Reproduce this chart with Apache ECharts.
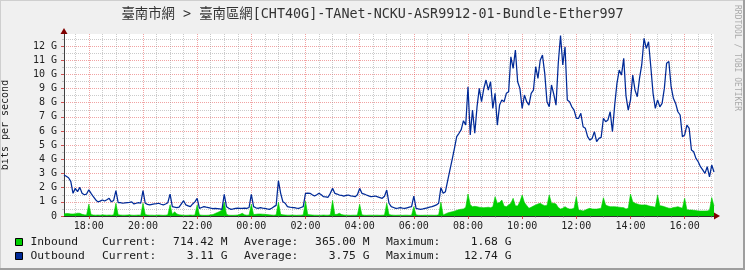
<!DOCTYPE html>
<html><head><meta charset="utf-8">
<script src="https://cdn.jsdelivr.net/npm/echarts@6/dist/echarts.min.js"></script>
<style>html,body{margin:0;padding:0;background:#F0F0F0;overflow:hidden}#c{width:745px;height:270px}</style>
</head><body><div id="c"></div>
<script>
const chartTitle = '臺南市網 > 臺南區網[CHT40G]-TANet-NCKU-ASR9912-01-Bundle-Ether997';
const yAxisTitle = 'bits per second';
const watermark = 'RRDTOOL / TOBI OETIKER';
const sampleStart = '17:05';
const sampleStepMin = 5;
const windowMin = 1440;
const xTickLabels = ['18:00','20:00','22:00','00:00','02:00','04:00','06:00','08:00','10:00','12:00','14:00','16:00'];
const xMinorStepMin = 30;
const yTickValues = [0,1,2,3,4,5,6,7,8,9,10,11,12];
const yTickLabels = ['0','1 G','2 G','3 G','4 G','5 G','6 G','7 G','8 G','9 G','10 G','11 G','12 G'];
const yMinorValues = [0.5,1.5,2.5,3.5,4.5,5.5,6.5,7.5,8.5,9.5,10.5,11.5,12.5];
const yMax = 12.85;

// Gbit/s, 5-minute samples from 17:05
const inbound = [
0.15,0.18,0.17,0.15,0.14,0.16,0.2,0.19,0.12,0.08,0.07,0.83,
0.1,0.07,0.06,0.07,0.06,0.08,0.07,0.06,0.07,0.06,0.08,0.9,
0.08,0.07,0.06,0.06,0.07,0.08,0.06,0.05,0.06,0.07,0.06,0.9,
0.1,0.07,0.06,0.06,0.05,0.06,0.07,0.06,0.05,0.06,0.08,0.78,
0.12,0.3,0.15,0.08,0.07,0.06,0.05,0.06,0.07,0.06,0.07,0.78,
0.08,0.06,0.05,0.05,0.06,0.08,0.1,0.18,0.25,0.32,0.42,0.97,
0.12,0.06,0.05,0.05,0.06,0.07,0.12,0.19,0.08,0.06,0.07,0.83,
0.1,0.12,0.14,0.14,0.13,0.12,0.1,0.08,0.07,0.06,0.08,0.97,
0.12,0.08,0.07,0.06,0.06,0.07,0.06,0.05,0.06,0.06,0.08,1.05,
0.1,0.08,0.07,0.06,0.06,0.05,0.06,0.07,0.06,0.06,0.08,1.1,
0.1,0.12,0.19,0.1,0.07,0.06,0.06,0.05,0.06,0.06,0.07,0.83,
0.08,0.06,0.05,0.06,0.06,0.05,0.06,0.06,0.05,0.06,0.07,0.9,
0.1,0.07,0.06,0.05,0.06,0.06,0.05,0.06,0.06,0.05,0.06,0.66,
0.08,0.06,0.05,0.05,0.06,0.05,0.06,0.06,0.05,0.06,0.08,0.97,
0.07,0.15,0.22,0.26,0.3,0.33,0.4,0.45,0.48,0.5,0.62,1.55,
0.8,0.66,0.68,0.66,0.62,0.6,0.59,0.6,0.62,0.59,0.65,1.36,
0.9,0.95,1.13,0.7,0.66,0.78,0.9,1.25,0.73,0.7,1.0,1.48,
0.95,0.75,0.54,0.62,0.7,0.78,0.85,0.9,0.8,0.73,0.75,1.48,
0.9,0.9,0.85,0.6,0.49,0.55,0.66,0.55,0.49,0.5,0.55,1.36,
0.42,0.4,0.35,0.42,0.5,0.54,0.5,0.49,0.49,0.52,0.55,1.29,
0.78,0.7,0.66,0.66,0.66,0.64,0.62,0.6,0.59,0.49,0.55,1.55,
1.0,0.9,0.85,0.8,0.78,0.78,0.78,0.72,0.68,0.66,0.62,1.48,
0.73,0.7,0.66,0.6,0.55,0.54,0.6,0.62,0.66,0.6,0.55,1.25,
0.45,0.42,0.42,0.4,0.38,0.36,0.35,0.35,0.35,0.36,0.4,1.3,
0.71];
const outbound = [
2.9,2.8,2.7,2.45,1.6,1.95,1.72,2.02,1.6,1.5,1.55,1.85,
1.6,1.36,1.15,1.0,1.05,1.13,1.06,1.15,1.25,1.0,1.1,1.79,
0.94,0.95,0.9,0.92,0.94,0.96,1.0,0.85,0.9,0.94,0.9,1.79,
0.9,0.82,0.78,0.82,0.85,0.87,0.9,0.83,0.78,0.85,0.94,1.55,
0.66,0.62,0.59,0.62,0.85,1.08,0.78,0.72,0.66,0.85,1.0,1.25,
0.54,0.6,0.66,0.62,0.59,0.55,0.52,0.53,0.52,0.5,0.47,1.53,
0.66,0.55,0.47,0.5,0.54,0.55,0.54,0.53,0.55,0.54,0.6,1.53,
0.66,0.58,0.54,0.59,0.56,0.54,0.5,0.47,0.55,0.66,0.75,2.49,
1.6,1.0,0.9,0.66,0.62,0.6,0.59,0.55,0.54,0.6,0.66,1.6,
1.62,1.6,1.5,1.41,1.5,1.6,1.5,1.36,1.35,1.32,1.6,1.95,
1.6,1.55,1.48,1.45,1.41,1.45,1.48,1.42,1.4,1.36,1.5,1.95,
1.6,1.55,1.48,1.42,1.36,1.38,1.41,1.35,1.3,1.25,1.4,1.83,
0.9,0.66,0.6,0.54,0.56,0.59,0.56,0.54,0.58,0.62,0.66,1.41,
0.54,0.5,0.47,0.5,0.54,0.58,0.62,0.66,0.72,0.78,0.9,2.0,
1.6,1.72,2.5,3.25,4.0,4.78,5.6,5.84,6.1,6.73,6.42,9.13,
5.72,7.48,5.84,7.7,9.01,8.07,9.0,9.6,8.89,9.48,7.6,8.66,
6.42,7.83,8.19,8.07,8.66,8.77,11.24,10.42,11.72,9.48,9.01,7.6,
8.54,8.07,7.83,8.66,8.89,10.54,9.72,11.0,11.36,10.07,8.07,7.71,
9.25,8.6,7.83,10.78,12.74,10.66,11.95,8.19,8.07,7.71,7.48,6.9,
6.9,7.25,6.3,6.19,5.6,5.36,5.48,5.95,5.25,5.48,5.55,6.9,
6.66,6.78,7.36,5.95,7.83,9.36,10.3,9.95,11.13,8.5,7.48,8.19,
9.95,8.89,8.42,9.72,10.7,12.54,11.83,12.3,10.54,8.66,7.6,8.2,
7.71,7.95,9.01,10.78,10.9,9.13,8.31,7.95,7.36,7.13,5.6,5.72,
6.42,6.19,4.66,4.54,4.07,3.83,3.48,3.25,3.01,3.48,2.77,3.6,
3.11];

const seriesNames = ['Inbound', 'Outbound'];
const seriesColors = ['#00CF00', '#002A97'];
const currentVals = ['714.42 M', '3.11 G'];
const averageVals = ['365.00 M', '3.75 G'];
const maximumVals = ['1.68 G', '12.74 G'];

function toMin(s) { const p = s.split(':'); return (+p[0]) * 60 + (+p[1]); }
const xMin = toMin(sampleStart);
const xMax = xMin + windowMin;
function absMin(label) { let m = toMin(label); if (m < xMin) m += 1440; return m; }
const xMajor = xTickLabels.map(absMin);
const labelByMin = {}; xTickLabels.forEach((l, i) => { labelByMin[xMajor[i]] = l; });
const xMinor = [];
for (let m = Math.ceil(xMin / xMinorStepMin) * xMinorStepMin; m < xMax; m += xMinorStepMin) {
  if (!labelByMin.hasOwnProperty(m)) xMinor.push(m);
}
const toPairs = arr => arr.map((v, i) => [xMin + i * sampleStepMin, v]);

const MONO = "'DejaVu Sans Mono', 'Noto Sans CJK TC', monospace";
const GRID_L = 64, GRID_T = 34, GRID_W = 650, GRID_H = 182;
const GRAY = 'rgba(140,140,140,0.45)';
const RED = 'rgba(224,50,50,0.45)';
const dot = [1, 1];

const chart = echarts.init(document.getElementById('c'), null, { renderer: 'canvas' });

const legendGraphics = [];
const rowY = [242, 256];
const LFONT = '11.3px ' + MONO;
seriesNames.forEach((name, i) => {
  const y = rowY[i];
  const t = (x, text, align) => ({ type: 'text', x: x, y: y, style: { text: text, font: LFONT, fill: '#1a1a1a', textVerticalAlign: 'middle', textAlign: align } });
  legendGraphics.push(
    { type: 'rect', shape: { x: 15.5, y: y - 3.5, width: 7, height: 7 }, style: { fill: seriesColors[i], stroke: '#000', lineWidth: 1 } },
    t(30.5, name, 'left'),
    t(102, 'Current:', 'left'),
    t(227.5, currentVals[i], 'right'),
    t(244, 'Average:', 'left'),
    t(369.5, averageVals[i], 'right'),
    t(386, 'Maximum:', 'left'),
    t(511.5, maximumVals[i], 'right')
  );
});

const option = {
  animation: false,
  backgroundColor: '#F0F0F0',
  grid: { left: GRID_L, top: GRID_T, width: GRID_W, height: GRID_H, backgroundColor: '#FFFFFF', show: true, borderWidth: 0, containLabel: false, outerBoundsMode: 'none' },
  xAxis: [
    {
      type: 'value', min: xMin, max: xMax, position: 'bottom',
      axisLine: { show: false },
      axisTick: { show: true, customValues: xMinor, length: 2, inside: false, lineStyle: { color: GRAY } },
      axisLabel: { show: false },
      splitLine: { show: true, lineStyle: { color: GRAY, type: dot, width: 1 } }
    },
    {
      type: 'value', min: xMin, max: xMax, position: 'bottom',
      axisLine: { show: true, onZero: false, lineStyle: { color: '#303030', width: 1 } },
      axisTick: { show: true, customValues: xMajor, length: 3, lineStyle: { color: 'rgba(200,40,40,0.8)' } },
      axisLabel: { show: true, customValues: xMajor, formatter: v => labelByMin[v] || '', margin: 5, fontFamily: MONO, fontSize: 10, color: '#222' },
      splitLine: { show: true, lineStyle: { color: RED, type: dot, width: 1 } }
    }
  ],
  yAxis: [
    {
      type: 'value', min: 0, max: yMax, position: 'left',
      axisLine: { show: false },
      axisTick: { show: true, customValues: yMinorValues, length: 2, lineStyle: { color: GRAY } },
      axisLabel: { show: false },
      splitLine: { show: true, lineStyle: { color: GRAY, type: dot, width: 1 } }
    },
    {
      type: 'value', min: 0, max: yMax, position: 'left',
      name: yAxisTitle, nameLocation: 'middle', nameGap: 54, nameRotate: 90,
      nameTextStyle: { fontFamily: MONO, fontSize: 10, color: '#222' },
      axisLine: { show: true, onZero: false, lineStyle: { color: '#404040', width: 1 } },
      axisTick: { show: true, customValues: yTickValues, length: 3, lineStyle: { color: 'rgba(200,40,40,0.8)' } },
      axisLabel: { show: true, customValues: yTickValues, formatter: v => { const i = yTickValues.indexOf(v); return i >= 0 ? yTickLabels[i] : ''; }, margin: 7, fontFamily: MONO, fontSize: 10, color: '#222' },
      splitLine: { show: true, lineStyle: { color: RED, type: dot, width: 1 } }
    }
  ],
  series: [
    {
      name: seriesNames[0], type: 'line', xAxisIndex: 1, yAxisIndex: 1,
      data: toPairs(inbound), showSymbol: false, symbol: 'none',
      lineStyle: { width: 0.6, color: seriesColors[0] },
      areaStyle: { color: seriesColors[0], opacity: 1 },
      z: 3
    },
    {
      name: seriesNames[1], type: 'line', xAxisIndex: 1, yAxisIndex: 1,
      data: toPairs(outbound), showSymbol: false, symbol: 'none',
      lineStyle: { width: 1.25, color: seriesColors[1] },
      z: 4
    }
  ],
  graphic: [
    { type: 'rect', shape: { x: 0, y: 0, width: 745, height: 1 }, style: { fill: '#CFCFCF' }, z: 100 },
    { type: 'rect', shape: { x: 0, y: 0, width: 1, height: 270 }, style: { fill: '#CFCFCF' }, z: 100 },
    { type: 'rect', shape: { x: 0, y: 268, width: 745, height: 2 }, style: { fill: '#9E9E9E' }, z: 100 },
    { type: 'rect', shape: { x: 743, y: 0, width: 2, height: 270 }, style: { fill: '#9E9E9E' }, z: 100 },
    { type: 'text', x: 372.5, y: 14.5, style: { text: chartTitle, font: '13.4px ' + MONO, fill: '#333', textAlign: 'center', textVerticalAlign: 'middle' }, z: 100 },
    { type: 'text', x: 737, y: 5, rotation: -Math.PI / 2, style: { text: watermark, font: '8px ' + MONO, fill: '#AAAAAA', textAlign: 'left', textVerticalAlign: 'middle' }, z: 100 },
    { type: 'polygon', shape: { points: [[60.5, 34], [67.5, 34], [64, 28]] }, style: { fill: '#800000' }, z: 100 },
    { type: 'polygon', shape: { points: [[714, 212.5], [714, 219.5], [720, 216]] }, style: { fill: '#800000' }, z: 100 }
  ].concat(legendGraphics.map(g => Object.assign({ z: 100 }, g)))
};
chart.setOption(option);
</script>
</body></html>
